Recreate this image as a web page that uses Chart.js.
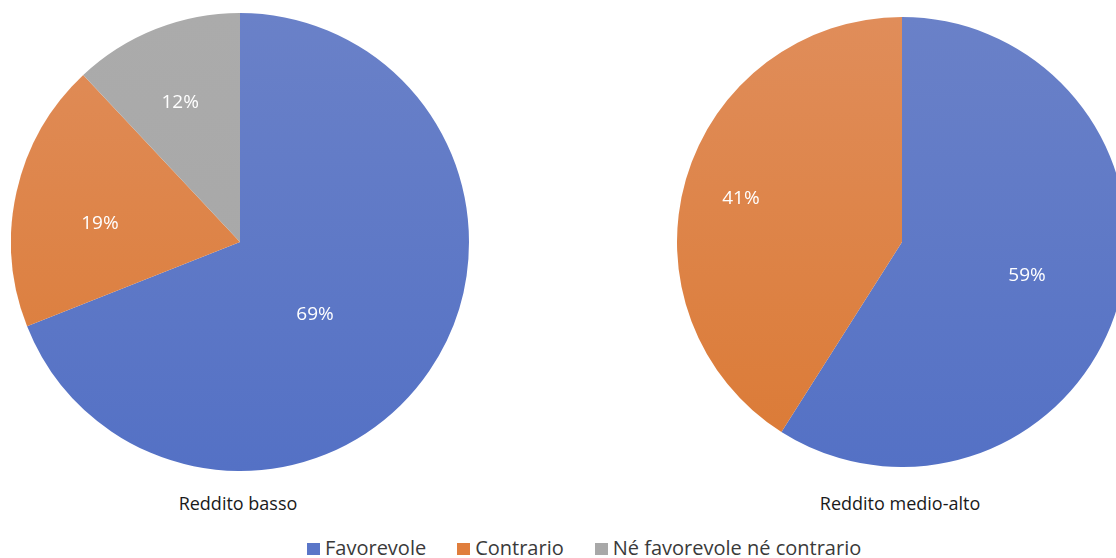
<!DOCTYPE html>
<html>
<head>
<meta charset="utf-8">
<script src="https://cdn.jsdelivr.net/npm/chart.js@4"></script>
<style>
  html, body { margin: 0; padding: 0; background: #fff; }
  body { width: 1116px; height: 558px; overflow: hidden; position: relative; font-family: "Open Sans", Lato, sans-serif; }
  .pie { position: absolute; }
  .title { position: absolute; top: 491px; font-size: 18px; line-height: 24px; color: #1a1a1a; text-align: center; width: 300px; }
  #legend { position: absolute; top: 535px; left: 307px; white-space: nowrap; font-size: 20px; line-height: 25px; color: #3a3a3a; }
  #legend span.item { margin-right: 31px; }
  #legend i { display: inline-block; width: 13px; height: 12px; margin-right: 5px; vertical-align: 0px; }
</style>
</head>
<body>
<div class="pie" id="wrap-basso" style="left:11px;top:13px;width:458px;height:458px;"><canvas id="pie-basso"></canvas></div>
<div class="pie" id="wrap-alto" style="left:677px;top:17px;width:450px;height:450px;"><canvas id="pie-alto"></canvas></div>
<div class="title" style="left:88px;">Reddito basso</div>
<div class="title" style="left:750px;">Reddito medio-alto</div>
<div id="legend"></div>

<script>
// --- DATI ---
const categorie = ['Favorevole', 'Contrario', 'Né favorevole né contrario'];
const redditoBasso = [69, 19, 12];
const redditoMedioAlto = [59, 41, 0];

// colori (alto / basso del gradiente)
const coloriTop = ['#6a81c8', '#e08d5a', '#ababab'];
const coloriBottom = ['#5471c5', '#db7a35', '#a6a6a6'];
const coloriLegenda = ['#5a76c8', '#e07e3c', '#a8a8a8'];

// gradiente verticale come nell'originale
function gradiente(ctx) {
    const chart = ctx.chart;
    const area = chart.chartArea;
    if (!area) return coloriBottom[ctx.dataIndex];
    const g = chart.ctx.createLinearGradient(0, area.top, 0, area.bottom);
    g.addColorStop(0, coloriTop[ctx.dataIndex]);
    g.addColorStop(1, coloriBottom[ctx.dataIndex]);
    return g;
}

// plugin per le etichette percentuali dentro le fette
// fraz = distanza dal centro (frazione del raggio), delta = spostamento angolare in gradi
const etichettePlugin = {
    id: 'etichette',
    afterDatasetsDraw(chart, args, opts) {
        const ctx = chart.ctx;
        const meta = chart.getDatasetMeta(0);
        const values = chart.data.datasets[0].data;
        ctx.save();
        ctx.fillStyle = '#ffffff';
        ctx.font = '19px "Open Sans", Lato, sans-serif';
        ctx.textAlign = 'center';
        ctx.textBaseline = 'middle';
        meta.data.forEach((arc, i) => {
            if (!values[i]) return;
            const p = arc.getProps(['x', 'y', 'startAngle', 'endAngle', 'outerRadius'], true);
            const mid = (p.startAngle + p.endAngle) / 2 + (opts.delta[i] || 0) * Math.PI / 180;
            const r = p.outerRadius * (opts.fraz[i] || 0.6);
            ctx.fillText(values[i] + '%', p.x + Math.cos(mid) * r, p.y + Math.sin(mid) * r);
        });
        ctx.restore();
    }
};

function creaTorta(id, valori, fraz, delta) {
    return new Chart(document.getElementById(id).getContext('2d'), {
        type: 'pie',
        data: {
            labels: categorie,
            datasets: [{
                data: valori,
                backgroundColor: gradiente,
                borderWidth: 0
            }]
        },
        options: {
            responsive: true,
            maintainAspectRatio: false,
            animation: false,
            layout: { padding: 0 },
            plugins: {
                legend: { display: false },
                tooltip: { enabled: false },
                etichette: { fraz: fraz, delta: delta }
            }
        },
        plugins: [etichettePlugin]
    });
}

creaTorta('pie-basso', redditoBasso, [0.457, 0.617, 0.661], [10, -5, -1.7]);
creaTorta('pie-alto', redditoMedioAlto, [0.576, 0.742, 0.6], [-1, -1, 0]);

// --- LEGENDA ---
const legenda = document.getElementById('legend');
categorie.forEach((nome, i) => {
    const item = document.createElement('span');
    item.className = 'item';
    item.innerHTML = '<i style="background:' + coloriLegenda[i] + '"></i>' + nome;
    legenda.appendChild(item);
});
</script>
</body>
</html>
